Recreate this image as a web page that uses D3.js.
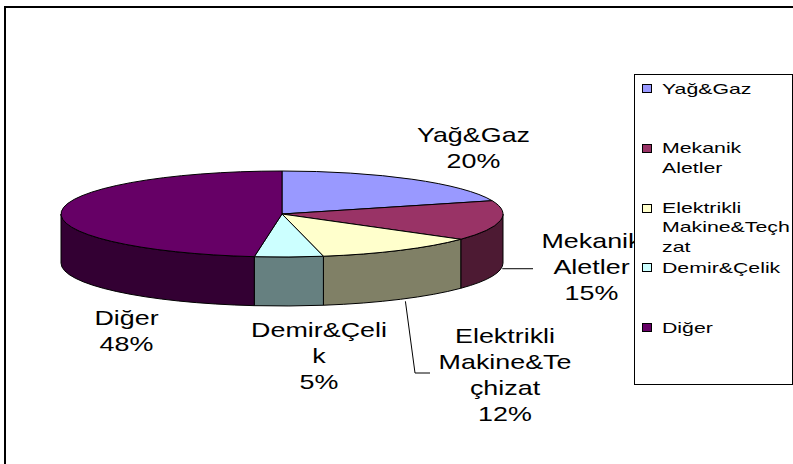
<!DOCTYPE html>
<html><head><meta charset="utf-8">
<script src="https://cdn.jsdelivr.net/npm/d3@7"></script>
<style>
body{margin:0;background:#fff}
svg{display:block}
text{font-family:"Liberation Sans",Arial,sans-serif;fill:#000}
</style>
</head><body><svg id="c" width="793" height="464"></svg>
<script>
// ---- data ----
const categories = ["Yağ&Gaz", "Mekanik Aletler", "Elektrikli Makine&Teçhizat", "Demir&Çelik", "Diğer"];
const values = [20, 15, 12, 5, 48];
const labelLines = [["Yağ&Gaz"], ["Mekanik", "Aletler"], ["Elektrikli", "Makine&Te", "çhizat"], ["Demir&Çeli", "k"], ["Diğer"]];
const legendLines = [["Yağ&Gaz"], ["Mekanik", "Aletler"], ["Elektrikli", "Makine&Teçh", "zat"], ["Demir&Çelik"], ["Diğer"]];
const topColors = ["#9999FF", "#993366", "#FFFFCC", "#CCFFFF", "#660066"];

// ---- layout ----
const cx = 282, cy = 214, rx = 221, ry = 43, depth = 49;
const labelPos = [[473.5, 142], [591.5, 248], [505, 343], [319, 337], [126.5, 325]];
const labelLH = 26, labelFont = 21, labelSX = 1.28;
const legend = {x: 634.5, y: 74.5, w: 158, h: 310, markX: 642.5, textX: 662, y0: 89, step: 59.75, lh: 19.5, font: 15, sx: 1.42};

const svg = d3.select("#c");
svg.append("rect").attr("x", 5).attr("y", 7).attr("width", 830).attr("height", 520)
  .attr("fill", "#fff").attr("stroke", "#000").attr("stroke-width", 2);

const total = d3.sum(values);
const pie = d3.pie().sort(null).value(d => d)(values);
const arc = d3.arc().innerRadius(0).outerRadius(rx);
const P = (a, dz = 0) => [cx + rx * Math.sin(a), cy - ry * Math.cos(a) + dz];
const darker = c => { const r = d3.rgb(c); return d3.rgb(r.r * 0.5, r.g * 0.5, r.b * 0.5).formatHex(); };

// side walls (front half)
const gs = svg.append("g");
pie.forEach((d, i) => {
  const a0 = Math.max(d.startAngle, Math.PI / 2), a1 = Math.min(d.endAngle, 3 * Math.PI / 2);
  if (a1 <= a0) return;
  const t0 = P(a0), t1 = P(a1), b1 = P(a1, depth), b0 = P(a0, depth);
  const large = (a1 - a0) > Math.PI ? 1 : 0;
  gs.append("path")
    .attr("d", `M${t0}A${rx},${ry} 0 ${large} 1 ${t1}L${b1}A${rx},${ry} 0 ${large} 0 ${b0}Z`)
    .attr("fill", darker(topColors[i])).attr("stroke", "#000").attr("stroke-width", 1)
    .attr("stroke-linejoin", "round");
});

// top faces
const gt = svg.append("g").attr("transform", `translate(${cx},${cy}) scale(1,${ry / rx})`);
gt.selectAll("path").data(pie).join("path")
  .attr("d", arc)
  .attr("fill", (d, i) => topColors[i])
  .attr("stroke", "#000").attr("stroke-width", 1)
  .attr("vector-effect", "non-scaling-stroke")
  .attr("stroke-linejoin", "round");

// leader lines
const mid = d => (d.startAngle + d.endAngle) / 2;
const m1 = P(mid(pie[1]), depth - 1);
svg.append("path").attr("d", `M${m1[0] + 2},${m1[1]}H${labelPos[1][0] - 58.5}`)
  .attr("fill", "none").attr("stroke", "#000").attr("stroke-width", 1);
const m2 = P(mid(pie[2]), depth);
svg.append("path").attr("d", `M${m2[0] + 5},${m2[1] + 2}L${labelPos[2][0] - 90},${labelPos[2][1] + 30}H${labelPos[2][0] - 75}`)
  .attr("fill", "none").attr("stroke", "#000").attr("stroke-width", 1);

// data labels
pie.forEach((d, i) => {
  const lines = labelLines[i].concat([Math.round(d.value / total * 100) + "%"]);
  const t = svg.append("text")
    .attr("transform", `translate(${labelPos[i][0]},${labelPos[i][1]}) scale(${labelSX},1)`)
    .attr("text-anchor", "middle").attr("font-size", labelFont);
  lines.forEach((s, k) => t.append("tspan").attr("x", 0).attr("y", k * labelLH).text(s));
});

// legend
svg.append("rect").attr("x", legend.x).attr("y", legend.y).attr("width", legend.w).attr("height", legend.h)
  .attr("fill", "#fff").attr("stroke", "#000").attr("stroke-width", 1);
categories.forEach((c, i) => {
  const yc = legend.y0 + i * legend.step;
  svg.append("rect").attr("x", legend.markX).attr("y", Math.round(yc - 5) + 0.5).attr("width", 9).attr("height", 8)
    .attr("fill", topColors[i]).attr("stroke", "#000").attr("stroke-width", 1);
  const t = svg.append("text")
    .attr("transform", `translate(${legend.textX},${yc + 4.5}) scale(${legend.sx},1)`)
    .attr("font-size", legend.font);
  legendLines[i].forEach((s, k) => t.append("tspan").attr("x", 0).attr("y", k * legend.lh).text(s));
});
</script>
</body></html>
